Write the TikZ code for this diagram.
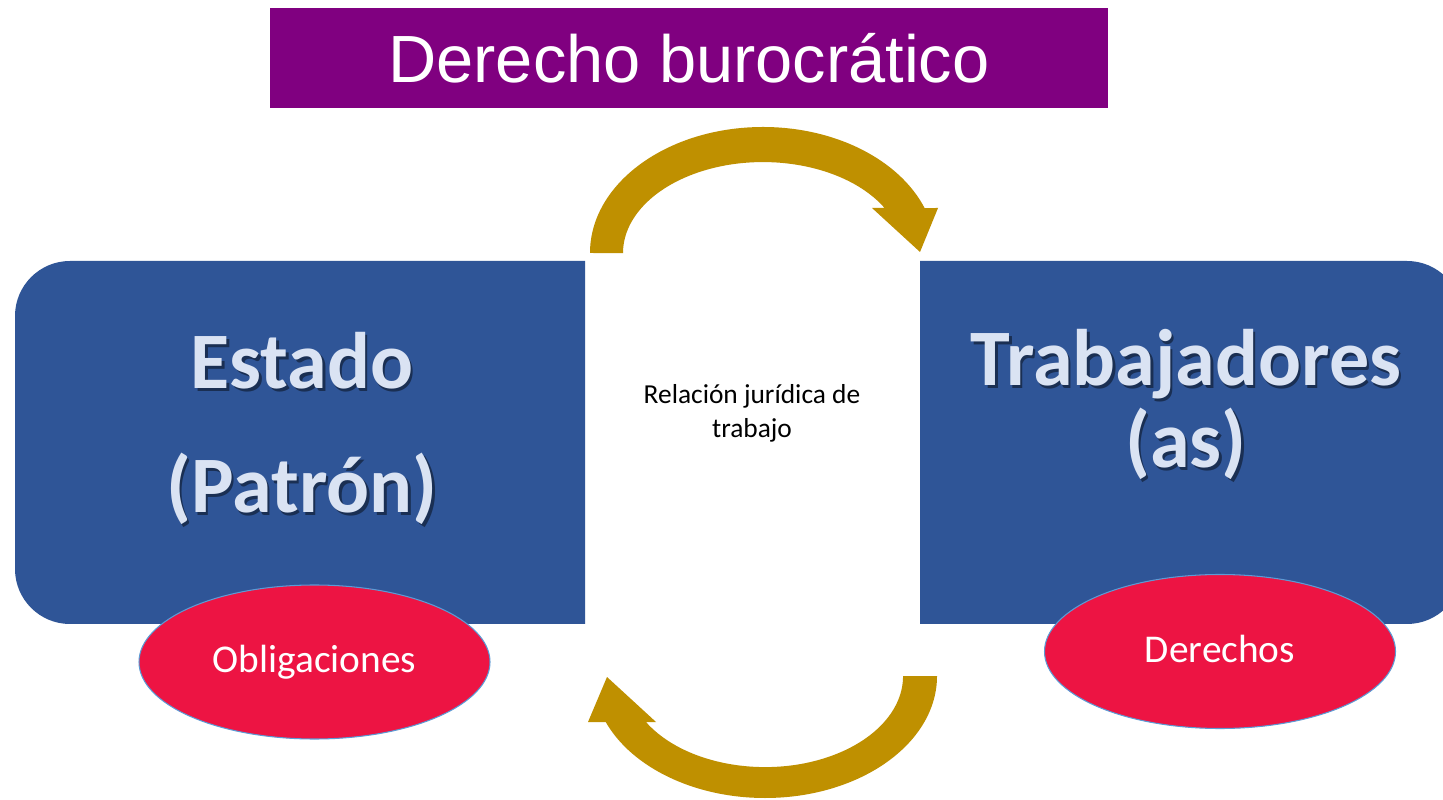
\documentclass[tikz,border=0pt]{standalone}
\usepackage{fontspec}
\setmainfont{Carlito}
\newfontfamily\titulofont{Liberation Sans}
\usetikzlibrary{shapes.geometric}

\definecolor{morado}{HTML}{800080}
\definecolor{azul}{HTML}{2F5597}
\definecolor{oro}{HTML}{BF9000}
\definecolor{rojo}{HTML}{ED1443}
\definecolor{borde}{HTML}{5B9BD5}
\definecolor{claro}{HTML}{DAE3F3}
\colorlet{sombra}{azul!55!black}

\newcommand\consombra[1]{\leavevmode\rlap{\kern0.03em\raisebox{-0.035em}{\color{sombra}#1}}#1}

\tikzset{
  ovalo/.style={ellipse, fill=rojo, draw=borde, line width=0.3pt, inner sep=0pt,
    minimum width=35.1mm, minimum height=15.4mm, text=white,
    text height=0.62em, text depth=0pt,
    font=\fontsize{11.2}{13.4}\selectfont},
  grande/.style={text=claro, align=center, inner sep=0pt}
}

\begin{document}
\begin{tikzpicture}[x=0.1mm, y=-0.1mm]
  \path[use as bounding box, clip] (0,0) rectangle (1443,800);
  \fill[white] (0,0) rectangle (1443,800);

  % Titulo
  \node[fill=morado, minimum width=83.8mm, minimum height=10mm, text=white,
    font=\titulofont\fontsize{19}{23}\selectfont] (titulo) at (689,58) {Derecho burocrático};

  % Cajas
  \fill[azul] (585,261) -- (70,261) arc[start angle=90, end angle=180, radius=5.5mm]
    -- (15,569) arc[start angle=180, end angle=270, radius=5.5mm] -- (585,624) -- cycle;
  \fill[azul] (920,261) -- (1407,261) arc[start angle=90, end angle=0, radius=5.5mm]
    -- (1462,569) arc[start angle=0, end angle=-90, radius=5.5mm] -- (920,624) -- cycle;

  \node[grande, font=\fontsize{22.8}{35.3}\selectfont\bfseries] (estado) at (302,430)
    {\consombra{Estado}\\\consombra{(Patrón)}};
  \node[grande, font=\fontsize{22.8}{23.3}\selectfont\bfseries] (trabajadores) at (1186,406)
    {\consombra{Trabajadores}\\\consombra{(as)}};

  \node[align=center, inner sep=0pt, font=\fontsize{7.8}{9.7}\selectfont] (relacion) at (752,413)
    {Relación jurídica de\\trabajo};

  % Flechas
  \fill[oro] (590,253) arc[start angle=180, end angle=20.9, x radius=17.3mm, y radius=12.6mm]
    -- (938,208) -- (920,252) -- (872,208) -- (884.6,208)
    arc[start angle=29.7, end angle=180, x radius=14mm, y radius=9.1mm] -- cycle;
  \fill[oro] (937,676) arc[start angle=0, end angle=-157.8, x radius=17.2mm, y radius=12.2mm]
    -- (588,722) -- (607,677) -- (656,722) -- (645.9,722)
    arc[start angle=-149.7, end angle=0, x radius=13.8mm, y radius=9.1mm] -- cycle;

  \node[ovalo] (obligaciones) at (314.5,662) {Obligaciones};
  \node[ovalo] (derechos) at (1220,651.5) {Derechos};
\end{tikzpicture}
\end{document}
